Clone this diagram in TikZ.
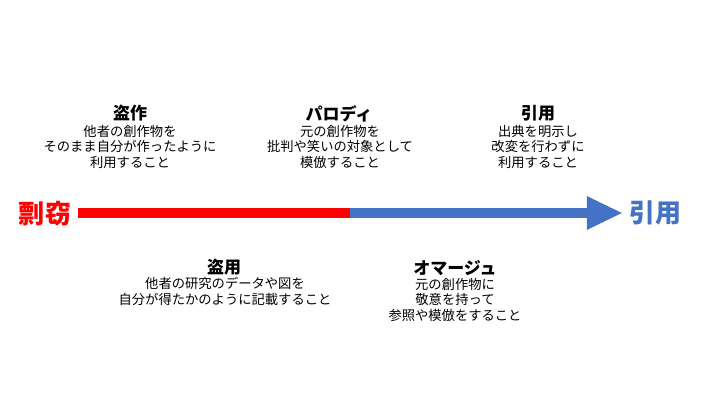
\documentclass[tikz,border=0pt]{standalone}
\usepackage{fontspec}
\setmainfont{Noto Sans CJK JP}
\usetikzlibrary{positioning}
\definecolor{kred}{HTML}{FF0000}
\definecolor{kblue}{HTML}{4472C4}

\begin{document}
\begin{tikzpicture}[
  x=1pt, y=-1pt,
  ttl/.style={font=\bfseries\fontsize{17}{20}\selectfont, inner sep=0pt},
  desc/.style={font=\fontsize{13.3}{15.5}\selectfont, align=center, inner sep=0pt},
  endlbl/.style={font=\bfseries\fontsize{26}{30}\selectfont, inner sep=0pt},
  bar/.style={line width=10pt},
]
\useasboundingbox (0,0) rectangle (720,405);

\node [endlbl, text=kred] (hyosetsu) at (45,214) {剽窃};
\node [endlbl, text=kblue] (quote) at (655,213) {引用};

\coordinate [right=7pt of hyosetsu.east] (barL);
\coordinate (barM) at (350,213);
\coordinate [left=7pt of quote.west] (tip);

\draw [bar, kred] (barL |- barM) -- (barM);
\draw [bar, kblue] (barM) -- ([xshift=-34pt]tip |- barM);
\fill [kblue] (tip |- barM) -- ++(-35,-17) -- ++(0,34) -- cycle;

\node [ttl] (tousaku) at (130,113.5) {盗作};
\node [desc] (tousaku-d) at (130,146.5) {他者の創作物を\\そのまま自分が作ったように\\利用すること};
\node [ttl] (parody) at (339,113.5) {パロディ};
\node [desc] (parody-d) at (340,146.5) {元の創作物を\\批判や笑いの対象として\\模倣すること};
\node [ttl] (inyo) at (538,113.5) {引用};
\node [desc] (inyo-d) at (538,146.5) {出典を明示し\\改変を行わずに\\利用すること};

\node [ttl] (toyo) at (224,267.5) {盗用};
\node [desc] (toyo-d) at (225,291.5) {他者の研究のデータや図を\\自分が得たかのように記載すること};
\node [ttl] (hommage) at (455,268) {オマージュ};
\node [desc] (hommage-d) at (455,299.5) {元の創作物に\\敬意を持って\\参照や模倣をすること};

\end{tikzpicture}
\end{document}
